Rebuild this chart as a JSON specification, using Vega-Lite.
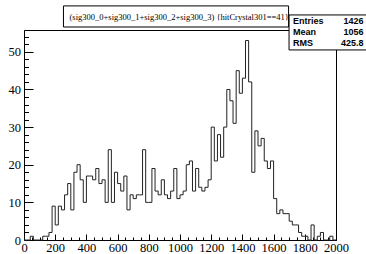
{
  "$schema": "https://vega.github.io/schema/vega-lite/v6.json",
  "width": 312,
  "height": 210,
  "autosize": "none",
  "padding": {"left": 24, "top": 30, "right": 30, "bottom": 14},
  "background": "white",
  "config": {
    "view": {"stroke": "black", "strokeWidth": 1},
    "axis": {
      "grid": false,
      "title": null,
      "domainColor": "black",
      "tickColor": "black",
      "labelColor": "black",
      "labelFont": "Liberation Serif",
      "labelFontSize": 12.5,
      "labelFlush": false,
      "labelOverlap": false,
      "labelBound": false,
      "format": "d"
    }
  },
  "layer": [
    {
      "data": {
        "values": [
          {"x": 0, "n": 0}, {"x": 20, "n": 0}, {"x": 40, "n": 1}, {"x": 60, "n": 0}, {"x": 80, "n": 0},
          {"x": 100, "n": 0}, {"x": 120, "n": 1}, {"x": 140, "n": 1}, {"x": 160, "n": 2}, {"x": 180, "n": 9},
          {"x": 200, "n": 4}, {"x": 220, "n": 9}, {"x": 240, "n": 8}, {"x": 260, "n": 12}, {"x": 280, "n": 15},
          {"x": 300, "n": 8}, {"x": 320, "n": 18}, {"x": 340, "n": 20}, {"x": 360, "n": 16}, {"x": 380, "n": 10},
          {"x": 400, "n": 17}, {"x": 420, "n": 17}, {"x": 440, "n": 16}, {"x": 460, "n": 19}, {"x": 480, "n": 15},
          {"x": 500, "n": 16}, {"x": 520, "n": 10}, {"x": 540, "n": 24}, {"x": 560, "n": 10}, {"x": 580, "n": 18},
          {"x": 600, "n": 15}, {"x": 620, "n": 13}, {"x": 640, "n": 17}, {"x": 660, "n": 8}, {"x": 680, "n": 12},
          {"x": 700, "n": 11}, {"x": 720, "n": 12}, {"x": 740, "n": 12}, {"x": 760, "n": 24}, {"x": 780, "n": 10},
          {"x": 800, "n": 10}, {"x": 820, "n": 19}, {"x": 840, "n": 13}, {"x": 860, "n": 12}, {"x": 880, "n": 16},
          {"x": 900, "n": 12}, {"x": 920, "n": 11}, {"x": 940, "n": 13}, {"x": 960, "n": 19}, {"x": 980, "n": 11},
          {"x": 1000, "n": 12}, {"x": 1020, "n": 13}, {"x": 1040, "n": 20}, {"x": 1060, "n": 21}, {"x": 1080, "n": 13},
          {"x": 1100, "n": 19}, {"x": 1120, "n": 14}, {"x": 1140, "n": 13}, {"x": 1160, "n": 14}, {"x": 1180, "n": 16},
          {"x": 1200, "n": 30}, {"x": 1220, "n": 21}, {"x": 1240, "n": 28}, {"x": 1260, "n": 22}, {"x": 1280, "n": 30},
          {"x": 1300, "n": 40}, {"x": 1320, "n": 37}, {"x": 1340, "n": 31}, {"x": 1360, "n": 45}, {"x": 1380, "n": 39},
          {"x": 1400, "n": 43}, {"x": 1420, "n": 53}, {"x": 1440, "n": 42}, {"x": 1460, "n": 18}, {"x": 1480, "n": 29},
          {"x": 1500, "n": 25}, {"x": 1520, "n": 27}, {"x": 1540, "n": 21}, {"x": 1560, "n": 19}, {"x": 1580, "n": 21},
          {"x": 1600, "n": 11}, {"x": 1620, "n": 7}, {"x": 1640, "n": 8}, {"x": 1660, "n": 7}, {"x": 1680, "n": 7},
          {"x": 1700, "n": 5}, {"x": 1720, "n": 4}, {"x": 1740, "n": 4}, {"x": 1760, "n": 2}, {"x": 1780, "n": 1},
          {"x": 1800, "n": 1}, {"x": 1820, "n": 0}, {"x": 1840, "n": 4}, {"x": 1860, "n": 0}, {"x": 1880, "n": 1},
          {"x": 1900, "n": 2}, {"x": 1920, "n": 0}, {"x": 1940, "n": 0}, {"x": 1960, "n": 1}, {"x": 1980, "n": 0},
          {"x": 2000, "n": 0}
        ]
      },
      "mark": {"type": "line", "interpolate": "step-after", "color": "#222222", "strokeWidth": 1},
      "encoding": {
        "x": {
          "field": "x", "type": "quantitative",
          "scale": {"domain": [0, 2000], "nice": false, "zero": false},
          "axis": {
            "values": [0,50,100,150,200,250,300,350,400,450,500,550,600,650,700,750,800,850,900,950,1000,1050,1100,1150,1200,1250,1300,1350,1400,1450,1500,1550,1600,1650,1700,1750,1800,1850,1900,1950,2000],
            "tickCount": 200,
            "labelExpr": "datum.value % 200 === 0 ? datum.label : ''",
            "labelOverlap": false,
            "tickSize": {"condition": {"test": "datum.value % 200 === 0", "value": -6}, "value": -3},
            "labelPadding": 7
          }
        },
        "y": {
          "field": "n", "type": "quantitative",
          "scale": {"domain": [0, 55.8], "nice": false},
          "axis": {
            "values": [0,2,4,6,8,10,12,14,16,18,20,22,24,26,28,30,32,34,36,38,40,42,44,46,48,50,52,54],
            "tickCount": 200,
            "labelExpr": "datum.value % 10 === 0 ? datum.label : ''",
            "labelOverlap": false,
            "tickSize": {"condition": {"test": "datum.value % 10 === 0", "value": -9}, "value": -4.5},
            "labelPadding": 12.5
          }
        }
      }
    },
    {
      "data": {"values": [{"labels": "Entries\nMean\nRMS", "vals": "1426\n1056\n425.8"}]},
      "layer": [
        {
          "mark": {"type": "rect", "fill": "white", "stroke": "black", "strokeWidth": 1},
          "encoding": {
            "x": {"datum": 1699, "type": "quantitative", "scale": {"domain": [0, 2000], "nice": false}},
            "x2": {"datum": 2450},
            "y": {"datum": 50.5, "type": "quantitative", "scale": {"domain": [0, 55.8], "nice": false}},
            "y2": {"datum": 59.8}
          }
        },
        {
          "mark": {"type": "text", "align": "left", "baseline": "alphabetic", "font": "Liberation Sans", "fontWeight": "bold", "fontSize": 9, "lineHeight": 11, "lineBreak": "\n", "color": "black"},
          "encoding": {
            "x": {"datum": 1724, "type": "quantitative"},
            "y": {"datum": 57.3, "type": "quantitative"},
            "text": {"field": "labels"}
          }
        },
        {
          "mark": {"type": "text", "align": "right", "baseline": "alphabetic", "font": "Liberation Sans", "fontWeight": "bold", "fontSize": 9, "lineHeight": 11, "lineBreak": "\n", "color": "black"},
          "encoding": {
            "x": {"datum": 2176, "type": "quantitative"},
            "y": {"datum": 57.3, "type": "quantitative"},
            "text": {"field": "vals"}
          }
        }
      ]
    },
    {
      "data": {"values": [{"title": "(sig300_0+sig300_1+sig300_2+sig300_3) {hitCrystal301==41}"}]},
      "layer": [
        {
          "mark": {"type": "rect", "fill": "white", "stroke": "black", "strokeWidth": 1},
          "encoding": {
            "x": {"datum": 253, "type": "quantitative"},
            "x2": {"datum": 1696},
            "y": {"datum": 56.6, "type": "quantitative"},
            "y2": {"datum": 62.2}
          }
        },
        {
          "mark": {"type": "text", "align": "center", "baseline": "middle", "font": "Liberation Serif", "fontSize": 8.5, "color": "black"},
          "encoding": {
            "x": {"datum": 995, "type": "quantitative"},
            "y": {"datum": 59.3, "type": "quantitative"},
            "text": {"field": "title"}
          }
        }
      ]
    }
  ]
}
